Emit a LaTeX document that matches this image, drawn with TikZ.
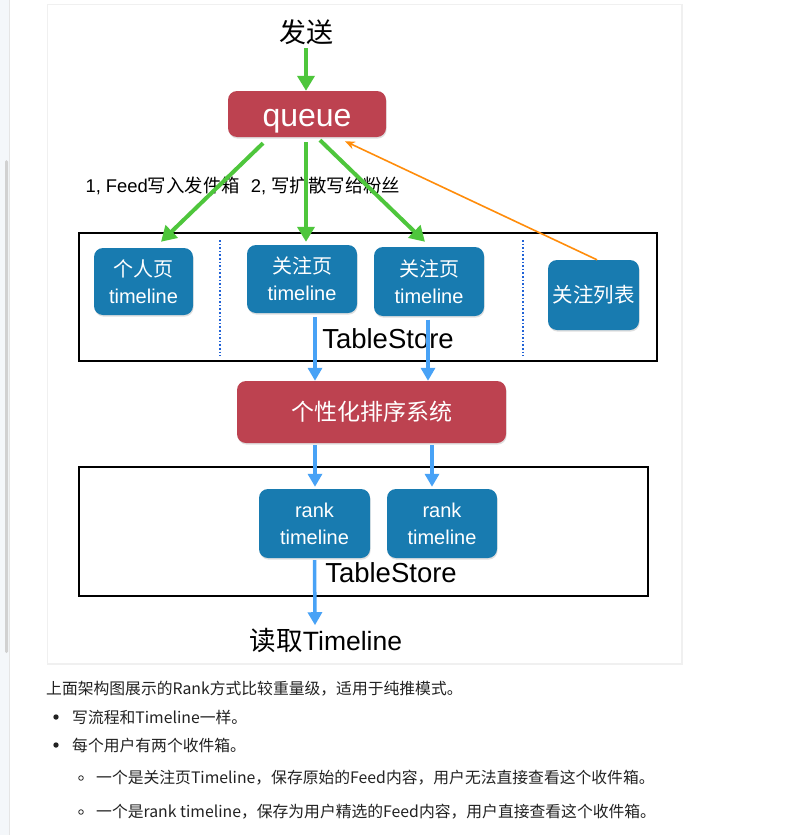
\documentclass[tikz,border=0pt]{standalone}
\usepackage{fontspec}
\setmainfont{Liberation Sans}
\newfontfamily\cjk{Noto Sans CJK SC}
\usetikzlibrary{arrows.meta,shadows}
\definecolor{qred}{RGB}{189,66,80}
\definecolor{tsblue}{RGB}{24,123,176}
\definecolor{fgreen}{RGB}{78,198,60}
\definecolor{abblue}{RGB}{72,162,246}
\definecolor{forange}{RGB}{255,140,10}
\definecolor{dotblue}{RGB}{32,98,214}
\definecolor{pagegray}{RGB}{244,247,250}
\definecolor{bodytext}{RGB}{34,34,34}

\begin{document}
\begin{tikzpicture}[x=1pt,y=-1pt,
  redbox/.style={fill=qred, text=white, rounded corners=9pt, inner sep=0pt,
    drop shadow={opacity=0.25,shadow xshift=0.6pt,shadow yshift=-1.6pt}},
  bluebox/.style={fill=tsblue, text=white, rounded corners=9pt, inner sep=0pt,
    align=center, font=\fontsize{20}{27}\selectfont,
    drop shadow={opacity=0.25,shadow xshift=0.6pt,shadow yshift=-1.6pt}},
  garrow/.style={draw=fgreen, line width=4pt, -{Triangle[length=15pt,width=17pt]}},
  barrow/.style={draw=abblue, line width=3.5pt, -{Triangle[length=13pt,width=14pt]}},
  oarrow/.style={draw=forange, line width=1.6pt, -{Stealth[length=10pt,width=8pt]}},
  storebox/.style={draw=black, line width=1.8pt},
  sepline/.style={draw=dotblue, dotted, line width=1.6pt},
  bodyline/.style={anchor=west, inner sep=0pt, text=bodytext, font=\cjk\fontsize{15.8}{19}\selectfont},
]
% page and card
\useasboundingbox (0,0) rectangle (806,835);
\fill[white] (0,0) rectangle (806,835);
\fill[pagegray] (0,0) rectangle (9,835);
\draw[black!10] (9,0) -- (9,835);
\fill[black!18, rounded corners=1.5pt] (5,160) rectangle (8,653);
\fill[black!6] (47,4) rectangle (683,665);
\fill[white] (48,5) rectangle (681,663);

% top: send and queue
\node[font=\cjk\fontsize{27}{30}\selectfont] (send) at (306,32) {发送};
\node[redbox, minimum width=158pt, minimum height=46pt, font=\fontsize{32}{34}\selectfont,
  text height=24pt, text depth=0pt] (queue) at (307,114) {queue};
\node[anchor=west, font=\fontsize{18.4}{20}\selectfont] (note) at (82,186) {1, Feed{\cjk 写入发件箱}\hspace{0.6em}2, {\cjk 写扩散写给粉丝}};

% first TableStore
\draw[storebox] (79,233) rectangle (657,361);
\draw[sepline] (220,240) -- (220,356);
\draw[sepline] (523,240) -- (523,356);
\node[bluebox, minimum width=99pt, minimum height=67pt] (own) at (143.5,281.5) {{\cjk 个人页}\\timeline};
\node[bluebox, minimum width=110pt, minimum height=68pt] (follow1) at (302,279) {{\cjk 关注页}\\timeline};
\node[bluebox, minimum width=110pt, minimum height=69pt] (follow2) at (429,281.5) {{\cjk 关注页}\\timeline};
\node[bluebox, minimum width=91pt, minimum height=70pt, font=\cjk\fontsize{20.5}{24}\selectfont] (flist) at (593.5,295) {关注列表};
\node[font=\fontsize{27.5}{30}\selectfont] (store1) at (388,339) {TableStore};

% ranking
\node[redbox, minimum width=269pt, minimum height=62pt, font=\cjk\fontsize{23}{26}\selectfont] (rank) at (371.5,412) {个性化排序系统};

% second TableStore
\draw[storebox] (79,467) rectangle (648,596);
\node[bluebox, minimum width=111pt, minimum height=69pt] (rank1) at (314.5,523.5) {rank\\timeline};
\node[bluebox, minimum width=110pt, minimum height=69pt] (rank2) at (442,523.5) {rank\\timeline};
\node[font=\fontsize{27.5}{30}\selectfont] (store2) at (391,573) {TableStore};
\node[font=\fontsize{26.5}{30}\selectfont] (read) at (326,640) {{\cjk 读取}Timeline};

% arrows
\draw[garrow] (send.south) -- ([xshift=-1pt]queue.north);
\draw[garrow] ([xshift=-44pt,yshift=-6pt]queue.south) -- ([xshift=17.5pt,yshift=6pt]own.north);
\draw[garrow] ([xshift=-1pt,yshift=-5pt]queue.south) -- ([xshift=4pt,yshift=3pt]follow1.north);
\draw[garrow] ([xshift=13pt,yshift=-3pt]queue.south) -- ([xshift=-4pt,yshift=5pt]follow2.north);
\draw[oarrow] ([xshift=3.5pt]flist.north) -- ([xshift=38pt,yshift=-4pt]queue.south);
\draw[barrow] ([xshift=13pt,yshift=-4pt]follow1.south) -- ([xshift=-56.5pt]rank.north);
\draw[barrow] ([xshift=-1pt,yshift=-3.5pt]follow2.south) -- ([xshift=56.5pt]rank.north);
\draw[barrow] ([xshift=-56.5pt,yshift=-2pt]rank.south) -- ([xshift=0.5pt,yshift=2pt]rank1.north);
\draw[barrow] ([xshift=60.5pt,yshift=-2pt]rank.south) -- ([xshift=-10pt,yshift=2pt]rank2.north);
\draw[barrow] ([yshift=-2pt]rank1.south) -- ([xshift=-11pt,yshift=-1pt]read.north);

% text below the card
\node[bodyline] (line0) at (46,689) {上面架构图展示的Rank方式比较重量级，适用于纯推模式。};
\fill[bodytext] (56,717) circle (2.7pt);
\node[bodyline] (item1) at (72,717) {写流程和Timeline一样。};
\fill[bodytext] (56,745) circle (2.7pt);
\node[bodyline] (item2) at (72,745) {每个用户有两个收件箱。};
\draw[bodytext, line width=0.8pt] (81,778) circle (2.3pt);
\node[bodyline] (sub1) at (96,778) {一个是关注页Timeline，保存原始的Feed内容，用户无法直接查看这个收件箱。};
\draw[bodytext, line width=0.8pt] (81,812) circle (2.3pt);
\node[bodyline] (sub2) at (96,812) {一个是rank timeline，保存为用户精选的Feed内容，用户直接查看这个收件箱。};
\end{tikzpicture}
\end{document}
